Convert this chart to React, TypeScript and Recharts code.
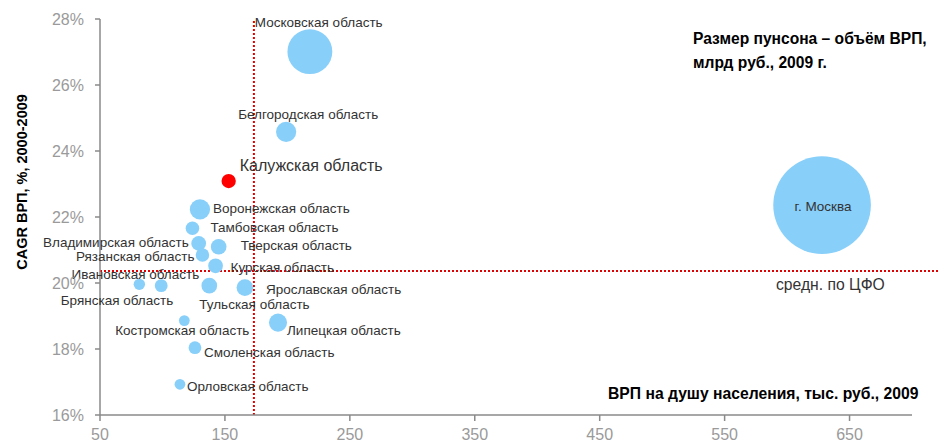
import { ScatterChart, Scatter, XAxis, YAxis, ZAxis, ReferenceLine } from "recharts"

// регионы ЦФО: ВРП на душу (тыс. руб.), CAGR ВРП 2000-2009 (%), объём ВРП (млрд руб.)
const regions = [
  "г. Москва",
  "Московская область",
  "Белгородская область",
  "Калужская область",
  "Воронежская область",
  "Тамбовская область",
  "Владимирская область",
  "Тверская область",
  "Рязанская область",
  "Курская область",
  "Ивановская область",
  "Брянская область",
  "Тульская область",
  "Ярославская область",
  "Костромская область",
  "Липецкая область",
  "Смоленская область",
  "Орловская область",
]
const grpPerCapita = [628, 218, 199, 153, 130, 124, 129, 145, 132, 142.5, 81.5, 99, 137.5, 166, 117.5, 192.5, 126, 114]
const cagr = [22.36, 27.01, 24.58, 23.09, 22.23, 21.66, 21.2, 21.1, 20.85, 20.52, 19.96, 19.92, 19.92, 19.86, 18.86, 18.8, 18.04, 16.93]
const grpVolume = [7000, 1480, 300, 150, 300, 135, 160, 180, 135, 160, 95, 120, 180, 205, 85, 240, 120, 85]

const highlighted = "Калужская область"
const avgCagr = 20.36
const avgGrpPerCapita = 173.2

const xTicks = [50, 150, 250, 350, 450, 550, 650]
const yTicks = [16, 18, 20, 22, 24, 26, 28]

const data = regions.map((name, i) => ({
  name,
  x: grpPerCapita[i],
  y: cagr[i],
  z: grpVolume[i],
}))

// where each caption sits relative to its bubble
const labelPlacement: Record<string, { dx: number; dy: number; anchor: "start" | "middle" | "end" }> = {
  "г. Москва": { dx: 1, dy: 1, anchor: "middle" },
  "Московская область": { dx: -55, dy: -29, anchor: "start" },
  "Белгородская область": { dx: -48, dy: -17, anchor: "start" },
  "Калужская область": { dx: 11, dy: -16, anchor: "start" },
  "Воронежская область": { dx: 13, dy: -1, anchor: "start" },
  "Тамбовская область": { dx: 18, dy: -1, anchor: "start" },
  "Владимирская область": { dx: -10, dy: -1, anchor: "end" },
  "Тверская область": { dx: 22, dy: -1, anchor: "start" },
  "Рязанская область": { dx: -8, dy: 2, anchor: "end" },
  "Курская область": { dx: 15, dy: 2, anchor: "start" },
  "Ивановская область": { dx: -4, dy: -10, anchor: "middle" },
  "Брянская область": { dx: 12, dy: 15, anchor: "end" },
  "Тульская область": { dx: -10, dy: 19, anchor: "start" },
  "Ярославская область": { dx: 21, dy: 2, anchor: "start" },
  "Костромская область": { dx: -2, dy: 10, anchor: "middle" },
  "Липецкая область": { dx: 9, dy: 8, anchor: "start" },
  "Смоленская область": { dx: 9, dy: 5, anchor: "start" },
  "Орловская область": { dx: 7, dy: 2, anchor: "start" },
}

const FONT = "'Liberation Sans', Arial, sans-serif"

function Bubble(props: any) {
  const { cx, cy, width, payload } = props
  const fill = payload.name === highlighted ? "#ff0000" : "#88cffa"
  return <circle cx={cx} cy={cy} r={width / 2} fill={fill} />
}

function BubbleLabel(props: any) {
  const { cx, cy, payload } = props
  const p = labelPlacement[payload.name]
  const big = payload.name === highlighted
  const inside = payload.name === "г. Москва"
  return (
    <text
      x={cx + p.dx}
      y={cy + p.dy}
      textAnchor={p.anchor}
      dominantBaseline="central"
      fontFamily={FONT}
      fontSize={big ? 16 : 13.5}
      fill="#333"
    >
      {payload.name}
    </text>
  )
}

export default function App() {
  return (
    <div style={{ position: "absolute", left: 0, top: 0, width: 940, height: 446, background: "#fff" }}>
      <ScatterChart width={940} height={446} margin={{ top: 19, right: 28, bottom: 0, left: 0 }}>
        <XAxis
          type="number"
          dataKey="x"
          domain={[50, 700]}
          ticks={xTicks}
          interval={0}
          stroke="#8a8a8a"
          strokeWidth={1.5}
          tickSize={6}
          tickMargin={8}
          height={31}
          tick={{ fill: "#9a9a9a", fontSize: 16, fontFamily: FONT }}
        />
        <YAxis
          type="number"
          dataKey="y"
          domain={[16, 28]}
          ticks={yTicks}
          interval={0}
          width={100}
          stroke="#8a8a8a"
          strokeWidth={1.5}
          tickSize={5}
          tickMargin={11}
          tickFormatter={(v: number) => `${v}%`}
          tick={{ fill: "#9a9a9a", fontSize: 16, fontFamily: FONT }}
        />
        <ZAxis type="number" dataKey="z" domain={[0, 7000]} range={[0, 7480]} />
        <ReferenceLine x={avgGrpPerCapita} stroke="#e00000" strokeWidth={2} strokeDasharray="2 2" />
        <ReferenceLine
          segment={[{ x: 50, y: avgCagr }, { x: 722.4, y: avgCagr }]}
          ifOverflow="visible"
          stroke="#e00000"
          strokeWidth={2}
          strokeDasharray="2 2"
        />
        <Scatter data={data} shape={<Bubble />} isAnimationActive={false} />
        <Scatter data={data} shape={<BubbleLabel />} isAnimationActive={false} />
      </ScatterChart>
      <svg
        width={940}
        height={446}
        style={{ position: "absolute", left: 0, top: 0, pointerEvents: "none" }}
        fontFamily={FONT}
      >
        <text
          transform="translate(22,182) rotate(-90)"
          textAnchor="middle"
          dominantBaseline="central"
          fontSize={14.5}
          fontWeight="bold"
          fill="#000"
        >
          CAGR ВРП, %, 2000-2009
        </text>
        <text x={693} y={38} dominantBaseline="central" fontSize={15.6} fontWeight="bold" fill="#000">
          Размер пунсона – объём ВРП,
        </text>
        <text x={693} y={62} dominantBaseline="central" fontSize={15.6} fontWeight="bold" fill="#000">
          млрд руб., 2009 г.
        </text>
        <text x={608} y={393} dominantBaseline="central" fontSize={15.7} fontWeight="bold" fill="#000">
          ВРП на душу населения, тыс. руб., 2009
        </text>
        <text x={776} y={284} dominantBaseline="central" fontSize={15.7} fill="#333">
          средн. по ЦФО
        </text>
      </svg>
    </div>
  )
}
